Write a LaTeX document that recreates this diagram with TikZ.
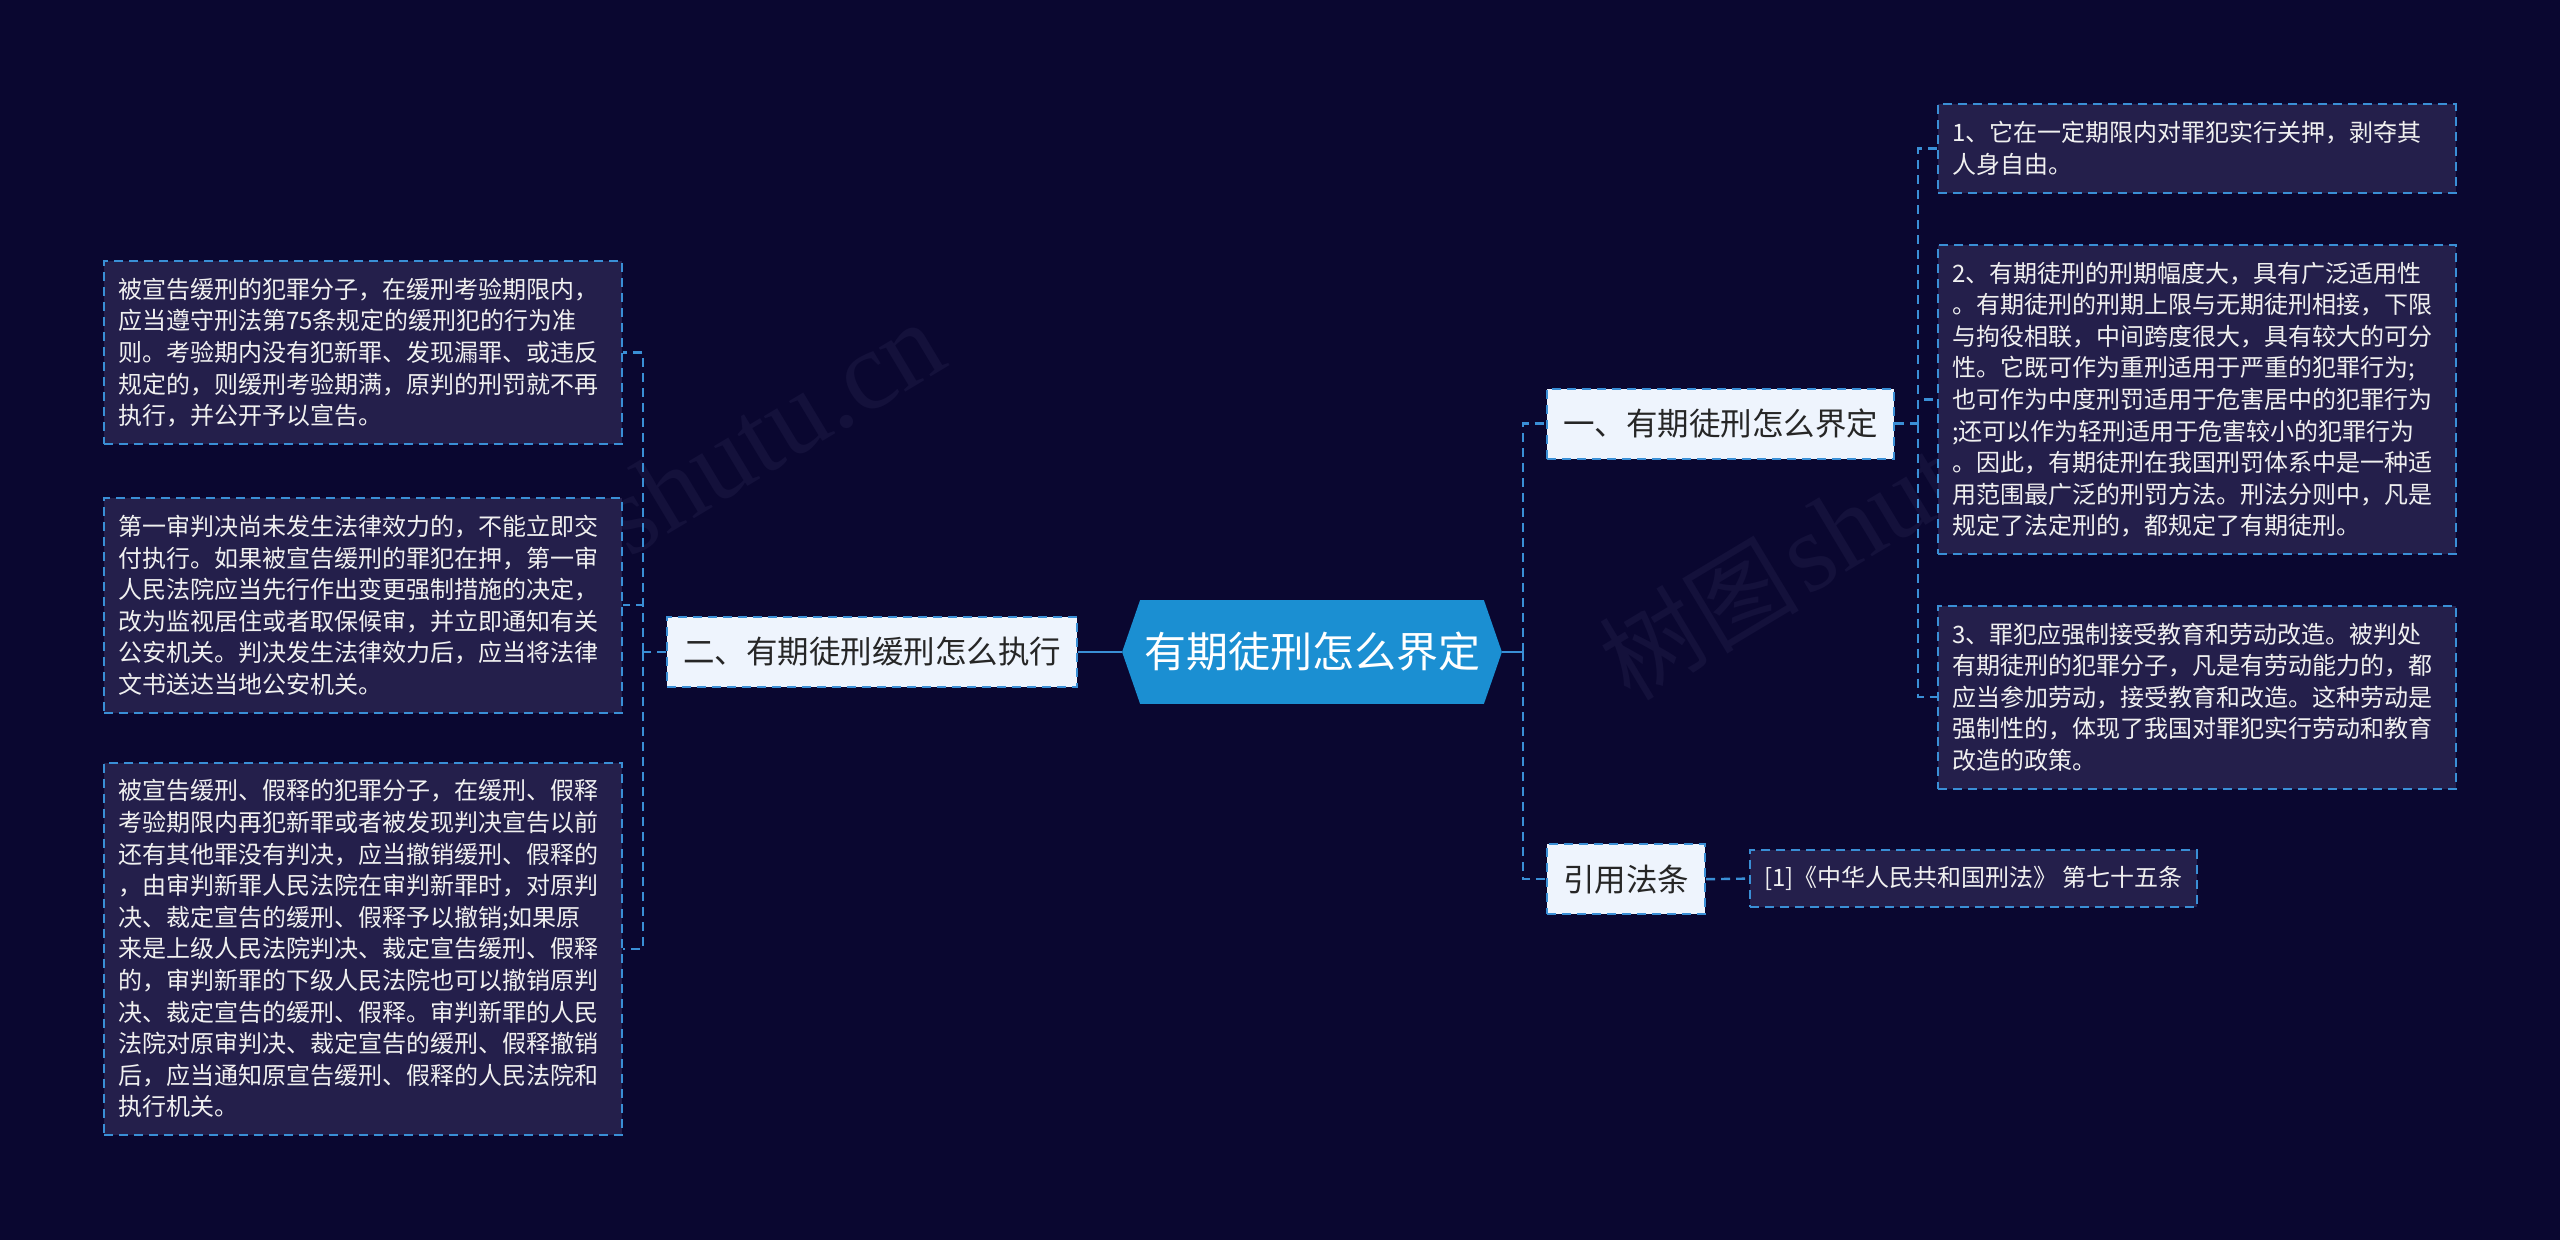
\documentclass[tikz,border=0pt]{standalone}
\usepackage{fontspec}
\newfontfamily\cjk{Noto Sans CJK SC}
\newfontfamily\wmfont{Liberation Serif}
\usetikzlibrary{backgrounds}
\definecolor{bgc}{HTML}{0A0730}
\definecolor{leaffill}{HTML}{241F4B}
\definecolor{linec}{HTML}{3A8FD6}
\definecolor{lonefill}{HTML}{EEF4FD}
\definecolor{hexc}{HTML}{1B8FD2}
\definecolor{wmc}{HTML}{14113B}
\begin{document}
\begin{tikzpicture}[x=0.5pt,y=-0.5pt,
  leaf/.style={draw=linec, fill=leaffill, line width=1pt, dash pattern=on 4.5pt off 3pt,
    text=white!94!black, font=\cjk\fontsize{12}{15.8}\selectfont, align=left,
    text width=245pt, inner xsep=7pt, inner ysep=0pt, anchor=center},
  lone/.style={draw=linec, fill=lonefill, line width=1pt, dash pattern=on 4.5pt off 3pt,
    text=black!85, font=\cjk\fontsize{15.75}{18}\selectfont, inner xsep=8pt, inner ysep=0pt,
    minimum height=35pt},
  conn/.style={draw=linec, line width=1.2pt, dash pattern=on 4.5pt off 3pt},
  solidconn/.style={draw=linec, line width=1.4pt},
  hexnode/.style={font=\cjk\fontsize{21}{24}\selectfont, text=white, minimum width=189.5pt,
    minimum height=51.5pt, inner sep=0pt},
  wm/.style={text=wmc, rotate=31, inner sep=0pt}
]
\useasboundingbox (0,0) rectangle (2560,1240);

% central topic
\node[hexnode] (c) at (1312,652) {有期徒刑怎么界定};

% level one
\node[lone, anchor=east] (n2) at (1078,652) {二、有期徒刑缓刑怎么执行};
\node[lone, anchor=west] (n1) at (1546,423.7) {一、有期徒刑怎么界定};
\node[lone, anchor=west] (n3) at (1546,879.2) {引用法条};

% left leaves
\node[leaf, minimum height=91.5pt] (L1) at (363,352.7) {被宣告缓刑的犯罪分子，在缓刑考验期限内，\\
应当遵守刑法第75条规定的缓刑犯的行为准\\
则。考验期内没有犯新罪、发现漏罪、或违反\\
规定的，则缓刑考验期满，原判的刑罚就不再\\
执行，并公开予以宣告。};
\node[leaf, minimum height=107.3pt] (L2) at (363,605.3) {第一审判决尚未发生法律效力的，不能立即交\\
付执行。如果被宣告缓刑的罪犯在押，第一审\\
人民法院应当先行作出变更强制措施的决定，\\
改为监视居住或者取保候审，并立即通知有关\\
公安机关。判决发生法律效力后，应当将法律\\
文书送达当地公安机关。};
\node[leaf, minimum height=186.3pt] (L3) at (363,948.8) {被宣告缓刑、假释的犯罪分子，在缓刑、假释\\
考验期限内再犯新罪或者被发现判决宣告以前\\
还有其他罪没有判决，应当撤销缓刑、假释的\\
，由审判新罪人民法院在审判新罪时，对原判\\
决、裁定宣告的缓刑、假释予以撤销;如果原\\
来是上级人民法院判决、裁定宣告缓刑、假释\\
的，审判新罪的下级人民法院也可以撤销原判\\
决、裁定宣告的缓刑、假释。审判新罪的人民\\
法院对原审判决、裁定宣告的缓刑、假释撤销\\
后，应当通知原宣告缓刑、假释的人民法院和\\
执行机关。};

% right leaves
\node[leaf, minimum height=44.1pt] (R1) at (2197,148.6) {1、它在一定期限内对罪犯实行关押，剥夺其\\
人身自由。};
\node[leaf, minimum height=154.7pt] (R2) at (2197,399.6) {2、有期徒刑的刑期幅度大，具有广泛适用性\\
。有期徒刑的刑期上限与无期徒刑相接，下限\\
与拘役相联，中间跨度很大，具有较大的可分\\
性。它既可作为重刑适用于严重的犯罪行为;\\
也可作为中度刑罚适用于危害居中的犯罪行为\\
;还可以作为轻刑适用于危害较小的犯罪行为\\
。因此，有期徒刑在我国刑罚体系中是一种适\\
用范围最广泛的刑罚方法。刑法分则中，凡是\\
规定了法定刑的，都规定了有期徒刑。};
\node[leaf, minimum height=91.5pt] (R3) at (2197,697.2) {3、罪犯应强制接受教育和劳动改造。被判处\\
有期徒刑的犯罪分子，凡是有劳动能力的，都\\
应当参加劳动，接受教育和改造。这种劳动是\\
强制性的，体现了我国对罪犯实行劳动和教育\\
改造的政策。};
\node[leaf, text width=, minimum height=28.3pt, anchor=west] (ref) at (1749,878.6) {[1]《中华人民共和国刑法》 第七十五条};

% background, watermark, hexagon
\begin{scope}[on background layer]
  \fill[bgc] (0,0) rectangle (2560,1240);
  \node[wm, anchor=base east] (wmA) at (952,364) {{\cjk\fontsize{50}{50}\selectfont 树图} {\wmfont\fontsize{56}{56}\selectfont shutu.cn}};
  \node[wm, anchor=base west] (wmB) at (1630,703) {{\cjk\fontsize{50}{50}\selectfont 树图} {\wmfont\fontsize{56}{56}\selectfont shutu.cn}};
  \fill[hexc] ([xshift=9pt]c.north west) -- ([xshift=-9pt]c.north east) -- (c.east)
    -- ([xshift=-9pt]c.south east) -- ([xshift=9pt]c.south west) -- (c.west) -- cycle;
\end{scope}

% connectors
\coordinate (lb) at (643,652);
\coordinate (rb) at (1523,652);
\coordinate (rb2) at (1918,423.7);

\draw[solidconn] (c.west) -- (n2.east);
\draw[conn] (n2.west) -- (lb);
\draw[conn] (lb) |- (L1.east);
\draw[conn] (lb) |- (L2.east);
\draw[conn] (lb) |- (L3.east);

\draw[solidconn] (c.east) -- (rb);
\draw[conn] (rb) |- (n1.west);
\draw[conn] (rb) |- (n3.west);

\draw[conn] (n1.east) -- (rb2);
\draw[conn] (rb2) |- (R1.west);
\draw[conn] (rb2) |- (R2.west);
\draw[conn] (rb2) |- (R3.west);

\draw[conn] (n3.east) -- (ref.west);
\end{tikzpicture}
\end{document}
